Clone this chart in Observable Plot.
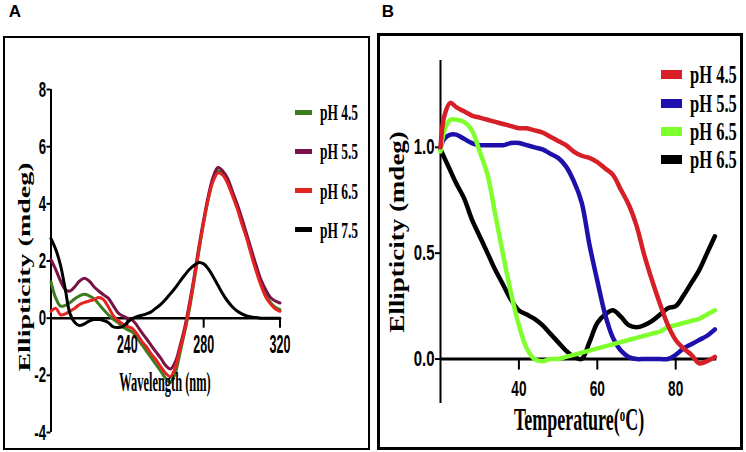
<!DOCTYPE html>
<html><head><meta charset="utf-8">
<script src="https://cdn.jsdelivr.net/npm/d3@7"></script>
<script src="https://cdn.jsdelivr.net/npm/@observablehq/plot@0.6"></script>
<style>
body{margin:0;background:#fff;}
#wrap{position:relative;width:746px;height:452px;overflow:hidden;background:#fff;}
#wrap svg{position:absolute;top:0;}
.lbl{position:absolute;white-space:nowrap;line-height:1;color:#000;font-family:"Liberation Serif","Times New Roman",serif;font-weight:bold;}
.box{position:absolute;box-sizing:border-box;border-style:solid;border-color:#000;pointer-events:none;}
.legend{position:absolute;}
.legend .row{display:flex;align-items:center;}
.legend .sw{display:inline-block;flex:none;}
.legend .tx{display:inline-block;white-space:nowrap;line-height:1;font-family:"Liberation Serif","Times New Roman",serif;font-weight:bold;transform-origin:0 50%;}
sup{font-size:0.6em;vertical-align:baseline;position:relative;top:-0.5em;}
</style></head><body><div id="wrap"></div>
<script>
// ---------- Panel A: CD spectra ----------
const wavelength = [200,202.5,205,207.5,210,212.5,215,217.5,220,222.5,225,227.5,230,232.5,235,237.5,240,242.5,245,247.5,250,252.5,255,257.5,260,262.5,265,267.5,270,272.5,275,277.5,280,282.5,285,287.5,290,292.5,295,297.5,300,302.5,305,307.5,310,312.5,315,317.5,320];
const cdPH45 = [1.27,0.7,0.42,0.45,0.55,0.68,0.78,0.84,0.78,0.68,0.5,0.3,0.12,-0.03,-0.15,-0.3,-0.4,-0.48,-0.68,-0.92,-1.15,-1.38,-1.62,-1.85,-2.1,-2.25,-1.95,-1.25,-0.5,0.3,1.3,2.35,3.35,4.2,4.85,5.15,5.05,4.8,4.38,3.92,3.38,2.85,2.28,1.72,1.2,0.82,0.55,0.38,0.3];
const cdPH55 = [2.05,1.7,1.3,1.0,0.95,1.1,1.3,1.4,1.3,1.1,0.95,0.82,0.7,0.45,0.2,0.08,0.0,-0.06,-0.25,-0.5,-0.72,-0.95,-1.18,-1.4,-1.65,-1.78,-1.55,-1.0,-0.35,0.5,1.45,2.5,3.45,4.3,4.95,5.27,5.15,4.9,4.45,4.0,3.5,2.95,2.4,1.85,1.35,1.0,0.72,0.6,0.53];
const cdPH65 = [0.24,0.35,0.12,0.15,0.25,0.35,0.48,0.55,0.6,0.65,0.72,0.65,0.4,0.1,-0.08,-0.2,-0.3,-0.35,-0.55,-0.8,-1.0,-1.25,-1.45,-1.7,-1.92,-2.05,-1.75,-1.1,-0.45,0.4,1.35,2.4,3.35,4.2,4.8,5.08,5.0,4.72,4.3,3.85,3.3,2.8,2.2,1.65,1.15,0.75,0.5,0.33,0.24];
const cdPH75 = [2.78,2.4,1.85,1.0,0.15,-0.15,-0.26,-0.2,-0.1,-0.05,-0.05,-0.08,-0.15,-0.3,-0.33,-0.3,-0.15,-0.02,0.05,0.1,0.15,0.22,0.35,0.48,0.65,0.85,1.05,1.28,1.5,1.7,1.85,1.95,1.9,1.72,1.45,1.15,0.85,0.6,0.4,0.25,0.15,0.08,0.04,0.02,0.0,0.0,0.0,0.0,0.0];
const legendA = ["pH 4.5","pH 5.5","pH 6.5","pH 7.5"];
const xTicksA = [240,280,320];
const yTicksA = [-4,-2,0,2,4,6,8];

// ---------- Panel B: thermal melt ----------
const temperature = [20,21,22.5,24,26,28,30,32,34,36,38,40,42,44,46,48,50,52,54,56,58,60,62,64,66,68,70,72,74,76,78,80,82,84,86,88,90];
const meltPH45 = [1.0,1.15,1.21,1.19,1.17,1.15,1.14,1.13,1.12,1.11,1.10,1.09,1.09,1.08,1.07,1.05,1.03,1.01,0.98,0.96,0.95,0.93,0.90,0.87,0.80,0.73,0.63,0.49,0.37,0.26,0.16,0.09,0.05,0.02,-0.02,-0.01,0.01];
const meltPH55 = [1.0,1.04,1.06,1.06,1.04,1.02,1.01,1.01,1.01,1.01,1.02,1.02,1.01,1.0,0.99,0.97,0.95,0.91,0.84,0.74,0.54,0.37,0.21,0.10,0.04,0.01,0.0,0.0,0.0,0.0,0.0,0.02,0.05,0.07,0.09,0.11,0.14];
const meltPH65 = [0.98,1.08,1.13,1.13,1.12,1.08,0.98,0.87,0.68,0.49,0.31,0.16,0.05,0.0,-0.01,0.0,0.0,0.01,0.02,0.03,0.04,0.05,0.06,0.07,0.08,0.09,0.10,0.11,0.12,0.13,0.15,0.16,0.17,0.18,0.19,0.21,0.23];
const meltPH65b = [0.99,0.95,0.89,0.83,0.76,0.66,0.58,0.5,0.42,0.35,0.28,0.23,0.21,0.19,0.16,0.12,0.08,0.04,0.01,0.0,0.08,0.17,0.21,0.23,0.20,0.16,0.15,0.16,0.18,0.21,0.24,0.25,0.3,0.36,0.42,0.5,0.58];
const legendB = ["pH 4.5","pH 5.5","pH 6.5","pH 6.5"];
const xTicksB = [40,60,80];
const yTicksB = [0,0.5,1.0];

// ---------- styles ----------
const colorsA = ["#3c7c1e","#7a1247","#e52421","#000000"];
const colorsB = ["#d61f26","#1e10aa","#80ff2e","#000000"];
const wrap = document.getElementById("wrap");

function condense(svg, markFont, sxMarks, axisFont, sxAxis) {
  svg.querySelectorAll("text").forEach(t => {
    const inMark = t.closest('g[aria-label="text"]');
    const sx = inMark ? sxMarks : sxAxis;
    t.style.fontSize = (inMark ? markFont : axisFont) + "px";
    t.style.fontWeight = "bold";
    t.style.fontFamily = "Liberation Sans, Arial, sans-serif";
    const tr = t.getAttribute("transform");
    if (tr) t.setAttribute("transform", tr + ` scale(${sx},1)`);
    else {
      const x = +(t.getAttribute("x") || 0);
      t.removeAttribute("x");
      t.setAttribute("transform", `translate(${x},0) scale(${sx},1)`);
    }
  });
  svg.querySelectorAll('g[aria-label*="y-axis"] line, g[aria-label*="y-axis"] path, g.tick line').forEach(l => l.setAttribute("stroke-width", 2));
}

// Panel A plot
const pxPerUnitA = (432 - 89) / 12;
const tickLenA = 10 / pxPerUnitA;
const rowsA = [cdPH45, cdPH55, cdPH65, cdPH75].map(v => wavelength.map((w, i) => ({x: w, y: v[i]})));
const plotA = Plot.plot({
  width: 370, height: 452,
  marginLeft: 50.5, marginRight: 90.5, marginTop: 89, marginBottom: 20,
  style: {background: "transparent", overflow: "visible", fontFamily: "Liberation Sans, Arial, sans-serif", fontWeight: "bold", fontSize: "21px", color: "#000"},
  x: {domain: [200, 320], axis: null},
  y: {domain: [-4, 8], ticks: yTicksA, tickSize: 4, tickPadding: 1, tickFormat: d => String(d), label: null},
  marks: [
    Plot.ruleX([200], {y1: () => -4, y2: () => 8, strokeWidth: 2}),
    Plot.ruleY([0], {x1: () => 200, x2: () => 320, strokeWidth: 2.5}),
    Plot.ruleX(xTicksA, {x: d => d, y1: () => 0, y2: () => -tickLenA, strokeWidth: 2}),
    Plot.line(rowsA[0], {x: "x", y: "y", stroke: colorsA[0], strokeWidth: 3, curve: "catmull-rom"}),
    Plot.line(rowsA[1], {x: "x", y: "y", stroke: colorsA[1], strokeWidth: 3, curve: "catmull-rom"}),
    Plot.line(rowsA[2], {x: "x", y: "y", stroke: colorsA[2], strokeWidth: 3, curve: "catmull-rom"}),
    Plot.line(rowsA[3], {x: "x", y: "y", stroke: colorsA[3], strokeWidth: 3, curve: "catmull-rom"}),
    Plot.text(xTicksA, {x: d => d, y: () => 0, dy: 27, text: d => String(d)})
  ]
});
plotA.style.left = "0px";
wrap.appendChild(plotA);
condense(plotA, 25, 0.5, 22, 0.6);

// Panel B plot
const pxPerUnitB = (403 - 60) / 1.62;
const tickLenB = 11 / pxPerUnitB;
const rowsB = [meltPH45, meltPH55, meltPH65, meltPH65b].map(v => temperature.map((t, i) => ({x: t, y: v[i]})));
const plotB = Plot.plot({
  width: 374, height: 452,
  marginLeft: 68, marginRight: 31.6, marginTop: 60, marginBottom: 49,
  style: {background: "transparent", overflow: "visible", fontFamily: "Liberation Sans, Arial, sans-serif", fontWeight: "bold", fontSize: "21px", color: "#000"},
  x: {domain: [20, 90], axis: null},
  y: {domain: [-0.21, 1.41], ticks: yTicksB, tickSize: 5, tickPadding: 1, tickFormat: d => d.toFixed(1), label: null},
  marks: [
    Plot.ruleX([20], {strokeWidth: 2}),
    Plot.ruleY([0], {x1: () => 20, x2: () => 90.5, strokeWidth: 3}),
    Plot.ruleX(xTicksB, {x: d => d, y1: () => 0, y2: () => -tickLenB, strokeWidth: 2}),
    Plot.line(rowsB[3], {x: "x", y: "y", stroke: colorsB[3], strokeWidth: 4.5, curve: "catmull-rom"}),
    Plot.line(rowsB[1], {x: "x", y: "y", stroke: colorsB[1], strokeWidth: 4.5, curve: "catmull-rom"}),
    Plot.line(rowsB[2], {x: "x", y: "y", stroke: colorsB[2], strokeWidth: 4.5, curve: "catmull-rom"}),
    Plot.line(rowsB[0], {x: "x", y: "y", stroke: colorsB[0], strokeWidth: 4.5, curve: "catmull-rom"}),
    Plot.text(xTicksB, {x: d => d, y: () => 0, dy: 29.5, text: d => String(d)})
  ]
});
plotB.style.left = "372px";
wrap.appendChild(plotB);
condense(plotB, 22, 0.62, 22, 0.68);

// ---------- text overlays ----------
function label(html, cx, cy, size, transform, family) {
  const d = document.createElement("div");
  d.className = "lbl";
  d.innerHTML = html;
  d.style.left = cx + "px";
  d.style.top = cy + "px";
  d.style.fontSize = size + "px";
  if (family) d.style.fontFamily = family;
  d.style.transform = "translate(-50%,-50%) " + transform;
  wrap.appendChild(d);
}
label("A", 15, 11, 17, "", "Liberation Sans, Arial, sans-serif");
label("B", 388, 11, 17, "", "Liberation Sans, Arial, sans-serif");
label("Wavelength (nm)", 164.5, 382, 27, "scale(0.46,1)");
label("Ellipticity (mdeg)", 25, 267, 28, "rotate(-90deg) scale(1,0.58)");
label("Temperature(<sup>o</sup>C)", 579, 419, 31, "scale(0.58,1)");
label("Ellipticity (mdeg)", 397.5, 231.5, 27, "rotate(-90deg) scale(1,0.74)");

function legend(names, colors, left, top, rowH, swW, swH, gap, size, sx) {
  const lg = document.createElement("div");
  lg.className = "legend";
  lg.style.left = left + "px";
  lg.style.top = top + "px";
  names.forEach((n, i) => {
    const r = document.createElement("div");
    r.className = "row";
    r.style.height = rowH + "px";
    const s = document.createElement("span");
    s.className = "sw";
    s.style.width = swW + "px"; s.style.height = swH + "px"; s.style.background = colors[i];
    s.style.marginRight = gap + "px";
    const t = document.createElement("span");
    t.className = "tx";
    t.textContent = n;
    t.style.fontSize = size + "px";
    t.style.transform = `scale(${sx},1)`;
    r.appendChild(s); r.appendChild(t);
    lg.appendChild(r);
  });
  wrap.appendChild(lg);
}
legend(legendA, colorsA, 295, 92.4, 39.3, 17, 5, 8, 24, 0.56);
legend(legendB, colorsB, 661, 60.8, 28.3, 21, 9, 8, 25, 0.66);

// ---------- panel frames ----------
function frame(l, t, w, h, bw) {
  const d = document.createElement("div");
  d.className = "box";
  Object.assign(d.style, {left: l + "px", top: t + "px", width: w + "px", height: h + "px", borderWidth: bw + "px"});
  wrap.appendChild(d);
}
frame(3, 36, 367, 414, 2);
frame(377, 33, 366, 417, 3.5);
</script></body></html>
